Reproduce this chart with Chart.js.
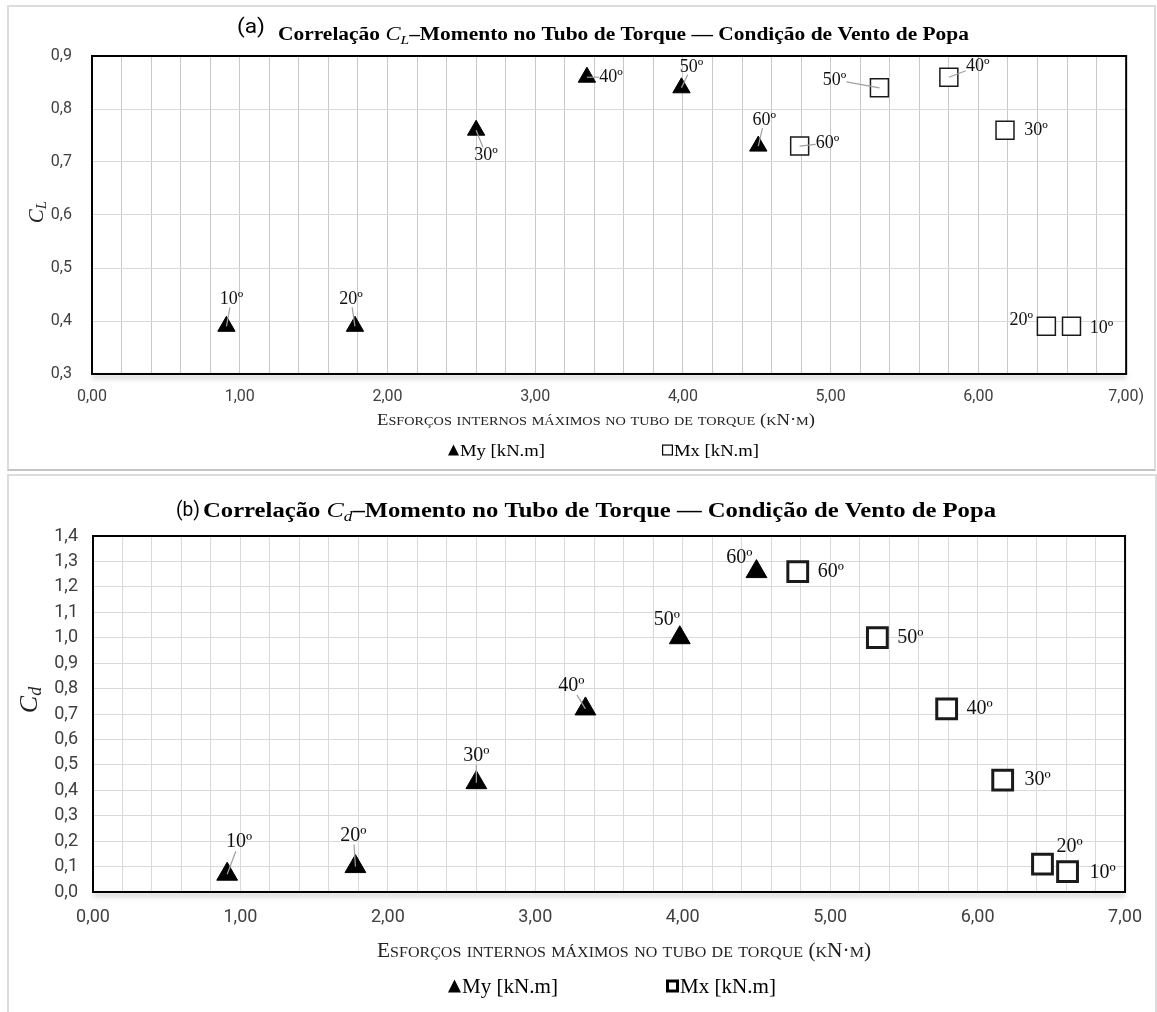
<!DOCTYPE html>
<html>
<head>
<meta charset="utf-8">
<script src="https://cdn.jsdelivr.net/npm/chart.js@4.4.1/dist/chart.umd.min.js"></script>
<style>
  body { margin: 0; background: #fff; width: 1157px; height: 1012px; overflow: hidden; position: relative; }
  .panel { position: absolute; box-sizing: border-box; border: 2px solid #dcdcdc; }
  #pa { left: 7px; top: 5px; width: 1149px; height: 466px; border-bottom-color: #c4c4c4; }
  #pb { left: 7px; top: 474px; width: 1150px; height: 560px; }
  canvas { position: absolute; left: 0; }
</style>
</head>
<body>
<div class="panel" id="pa"></div>
<div class="panel" id="pb"></div>
<canvas id="ca" width="1157" height="470" style="top:0"></canvas>
<canvas id="cb" width="1157" height="542" style="top:470px"></canvas>
<script>
// ---- data ----
const angleLabels = ['10º', '20º', '30º', '40º', '50º', '60º'];

// (a) C_L vs moment
const myA_x = [0.91, 1.78, 2.60, 3.35, 3.99, 4.51];
const myA_y = [0.39, 0.39, 0.76, 0.86, 0.84, 0.73];
const mxA_x = [6.63, 6.46, 6.18, 5.80, 5.33, 4.79];
const mxA_y = [0.39, 0.39, 0.76, 0.86, 0.84, 0.73];

// (b) C_d vs moment
const myB_x = [0.91, 1.78, 2.60, 3.34, 3.98, 4.50];
const myB_y = [0.07, 0.10, 0.43, 0.72, 1.00, 1.26];
const mxB_x = [6.61, 6.44, 6.17, 5.79, 5.32, 4.78];
const mxB_y = [0.08, 0.11, 0.44, 0.72, 1.00, 1.26];

// tick labels
const xTickLabelsA = ['0,00', '1,00', '2,00', '3,00', '4,00', '5,00', '6,00', '7,00)'];
const xTickLabelsB = ['0,00', '1,00', '2,00', '3,00', '4,00', '5,00', '6,00', '7,00'];
const yTickLabelsA = ['0,3', '0,4', '0,5', '0,6', '0,7', '0,8', '0,9'];
const yTickLabelsB = ['0,0', '0,1', '0,2', '0,3', '0,4', '0,5', '0,6', '0,7', '0,8', '0,9', '1,0', '1,1', '1,2', '1,3', '1,4'];

const seriesNames = ['My [kN.m]', 'Mx [kN.m]'];
const axisTitle = 'Esforços internos máximos no tubo de torque (kN·m)';

// label placement (offset of the angle label from its marker, px) — layout only
const labelPosA = {
    my: [[5, -27, 1], [-4, -27, 1], [10, 25, 1], [24, 0, 1], [10, -21, 1], [6, -26, 1]],
    mx: [[30, 2, 0], [-25, -6, 0], [31, 0, 0], [29, -11, 1], [-45, -8, 1], [28, -3, 1]]
};
const labelPosB = {
    my: [[12, -32, 1], [-2, -31, 1], [0, -27, 1], [-14, -23, 1], [-13, -18, 0], [-17, -14, 0]],
    mx: [[35, 1, 0], [27, -17, 0], [35, 0, 0], [33, 0, 0], [33, 0, 0], [33, 0, 0]]
};

const SERIF = '"Liberation Serif", "Times New Roman", serif';
const SANS = 'Roboto, "Open Sans", sans-serif';

// draws a run of text pieces, optionally squeezed/stretched to a given width
function drawParts(ctx, parts, x, baseline, width) {
    let total = 0;
    parts.forEach(p => { ctx.font = p.font; p.w = ctx.measureText(p.t).width; total += p.w; });
    const sx = width ? width / total : 1;
    ctx.save();
    ctx.translate(x, baseline);
    ctx.scale(sx, 1);
    ctx.textAlign = 'left';
    ctx.textBaseline = 'alphabetic';
    let cx = 0;
    parts.forEach(p => { ctx.font = p.font; ctx.fillText(p.t, cx, p.dy || 0); cx += p.w; });
    ctx.restore();
}

function smallCaps(text, big, small) {
    const parts = [];
    for (const ch of text) {
        const lower = ch !== ch.toUpperCase();
        const font = lower ? small : big;
        const t = lower ? ch.toUpperCase() : ch;
        const last = parts[parts.length - 1];
        if (last && last.font === font) last.t += t; else parts.push({ t: t, font: font });
    }
    return parts;
}

const deco = {
    id: 'deco',
    beforeDatasetsDraw(chart, args, o) {
        const { ctx, chartArea: a } = chart;
        ctx.save();
        ctx.strokeStyle = '#000';
        ctx.lineWidth = 2;
        ctx.strokeRect(a.left, a.top, a.right - a.left, a.bottom - a.top);
        // soft shadow under the bottom axis
        ctx.shadowColor = 'rgba(0,0,0,0.35)';
        ctx.shadowBlur = 5;
        ctx.shadowOffsetY = 3;
        ctx.beginPath();
        ctx.moveTo(a.left, a.bottom);
        ctx.lineTo(a.right, a.bottom);
        ctx.stroke();
        ctx.restore();
    },
    afterDatasetsDraw(chart, args, o) {
        const ctx = chart.ctx;
        ctx.save();
        ctx.font = o.labelFont;
        ctx.textAlign = 'center';
        ctx.textBaseline = 'middle';
        [o.pos.my, o.pos.mx].forEach((pos, di) => {
            const meta = chart.getDatasetMeta(di);
            meta.data.forEach((pt, i) => {
                const [dx, dy, lead] = pos[i];
                const lx = pt.x + dx, ly = pt.y + dy;
                if (lead) {
                    const hw = o.boxW, hh = o.boxH;
                    const s = Math.min(dx ? hw / Math.abs(dx) : 9, dy ? hh / Math.abs(dy) : 9);
                    if (s < 1) {
                        ctx.strokeStyle = '#a0a0a0';
                        ctx.lineWidth = 1.2;
                        ctx.beginPath();
                        ctx.moveTo(pt.x, pt.y);
                        ctx.lineTo(lx - s * dx, ly - s * dy);
                        ctx.stroke();
                    }
                }
                ctx.fillStyle = '#111';
                ctx.fillText(angleLabels[i], lx, ly);
            });
        });
        ctx.restore();
    },
    afterDraw(chart, args, o) {
        const ctx = chart.ctx;
        ctx.save();
        ctx.fillStyle = '#000';
        // title
        drawParts(ctx, [{ t: o.tag, font: o.tagFont }], o.tagX, o.tagY, o.tagW);
        const tf = o.titleFont;
        drawParts(ctx, [
            { t: 'Correlação ', font: 'bold ' + tf + 'px ' + SERIF },
            { t: 'C', font: 'italic ' + (tf + 1) + 'px ' + SERIF },
            { t: o.sub, font: 'italic ' + Math.round(tf * 0.72) + 'px ' + SERIF, dy: 4 },
            { t: '–Momento no Tubo de Torque — Condição de Vento de Popa', font: 'bold ' + tf + 'px ' + SERIF }
        ], o.titleX, o.titleY, o.titleW);
        // x axis title (small caps)
        ctx.fillStyle = '#222';
        drawParts(ctx, smallCaps(axisTitle, o.axFont + 'px ' + SERIF, Math.round(o.axFont * 0.76) + 'px ' + SERIF),
            o.axX, o.axY, o.axW);
        // y axis title
        ctx.save();
        ctx.translate(o.yX, o.yY);
        ctx.rotate(-Math.PI / 2);
        ctx.font = 'italic ' + o.yFont + 'px ' + SERIF;
        const cw = ctx.measureText('C').width;
        ctx.font = 'italic ' + Math.round(o.yFont * 0.7) + 'px ' + SERIF;
        const sw = ctx.measureText(o.sub).width;
        ctx.textBaseline = 'middle';
        ctx.textAlign = 'left';
        ctx.font = 'italic ' + o.yFont + 'px ' + SERIF;
        ctx.fillText('C', -(cw + sw) / 2, 0);
        ctx.font = 'italic ' + Math.round(o.yFont * 0.7) + 'px ' + SERIF;
        ctx.fillText(o.sub, -(cw + sw) / 2 + cw, o.yFont * 0.25);
        ctx.restore();
        // legend
        const lg = o.legend;
        ctx.fillStyle = '#000';
        ctx.beginPath();
        ctx.moveTo(lg.triX + lg.size / 2, lg.y - lg.size / 2);
        ctx.lineTo(lg.triX + lg.size, lg.y + lg.size / 2);
        ctx.lineTo(lg.triX, lg.y + lg.size / 2);
        ctx.closePath();
        ctx.fill();
        ctx.strokeStyle = '#000';
        ctx.lineWidth = lg.sqLine;
        ctx.strokeRect(lg.sqX + lg.sqLine / 2, lg.y - lg.size / 2 + lg.sqLine / 2, lg.size - lg.sqLine, lg.size - lg.sqLine);
        drawParts(ctx, [{ t: seriesNames[0], font: lg.font }], lg.triX + lg.size + 1, lg.base, lg.textW);
        drawParts(ctx, [{ t: seriesNames[1], font: lg.font }], lg.sqX + lg.size + 1, lg.base, lg.textW);
        ctx.restore();
    }
};

function points(xs, ys) {
    return xs.map((x, i) => ({ x: x, y: ys[i] }));
}

function makeChart(id, c) {
    const yMin = c.yMin;
    return new Chart(document.getElementById(id), {
        type: 'scatter',
        data: {
            datasets: [{
                label: seriesNames[0],
                data: points(c.myX, c.myY),
                pointStyle: 'triangle',
                pointRadius: c.triR,
                pointHoverRadius: c.triR,
                backgroundColor: '#000',
                borderColor: '#000',
                borderWidth: 1
            }, {
                label: seriesNames[1],
                data: points(c.mxX, c.mxY),
                pointStyle: 'rect',
                pointRadius: c.sqR,
                pointHoverRadius: c.sqR,
                backgroundColor: '#fff',
                borderColor: '#1a1a1a',
                borderWidth: c.sqLine
            }]
        },
        options: {
            responsive: false,
            animation: false,
            events: [],
            layout: { padding: c.padding },
            scales: {
                x: {
                    type: 'linear',
                    min: 0,
                    max: 7,
                    afterFit: s => { s.height = 50; },
                    border: { display: false },
                    grid: { color: c.vGrid, lineWidth: 1, drawTicks: false },
                    ticks: {
                        stepSize: 0.2,
                        autoSkip: false,
                        maxRotation: 0,
                        padding: c.xPad,
                        color: '#404040',
                        font: { family: SANS, size: c.tickSize },
                        callback: v => Math.abs(v - Math.round(v)) < 1e-6 ? c.xLabels[Math.round(v)] : ''
                    }
                },
                y: {
                    min: yMin,
                    max: c.yMax,
                    afterFit: s => { s.width = 60; },
                    border: { display: false },
                    grid: { color: '#d9d9d9', lineWidth: 1, drawTicks: false },
                    ticks: {
                        stepSize: 0.1,
                        padding: c.yPad,
                        color: '#404040',
                        font: { family: SANS, size: c.tickSize },
                        callback: v => c.yLabels[Math.round((v - yMin) * 10)]
                    }
                }
            },
            plugins: {
                legend: { display: false },
                tooltip: { enabled: false },
                deco: c.deco
            }
        },
        plugins: [deco]
    });
}

// (a)
makeChart('ca', {
    myX: myA_x, myY: myA_y, mxX: mxA_x, mxY: mxA_y,
    yMin: 0.3, yMax: 0.9, xLabels: xTickLabelsA, yLabels: yTickLabelsA,
    triR: 10, sqR: 12.7, sqLine: 1.5, tickSize: 16, xPad: 13, yPad: 20,
    vGrid: '#c8c8c8',
    padding: { left: 32, right: 25, top: 56, bottom: 46 },
    deco: {
        pos: labelPosA, labelFont: '18px ' + SERIF, boxW: 12, boxH: 8,
        tag: '(a)', tagFont: '21px ' + SANS, tagX: 237, tagY: 33, tagW: 28,
        titleFont: 18, sub: 'L', titleX: 278, titleY: 40, titleW: 691,
        axFont: 17, axX: 377, axY: 425, axW: 438,
        yX: 37, yY: 212, yFont: 21,
        legend: { triX: 448, sqX: 662, y: 450, size: 11, sqLine: 1.2, base: 456, font: '17px ' + SERIF, textW: 85 }
    }
});

// (b)
makeChart('cb', {
    myX: myB_x, myY: myB_y, mxX: mxB_x, mxY: mxB_y,
    yMin: 0, yMax: 1.4, xLabels: xTickLabelsB, yLabels: yTickLabelsB,
    triR: 12, sqR: 14, sqLine: 3, tickSize: 18, xPad: 15, yPad: 15,
    vGrid: '#d9d9d9',
    padding: { left: 33, right: 27, top: 66, bottom: 70 },
    deco: {
        pos: labelPosB, labelFont: '20px ' + SERIF, boxW: 13, boxH: 9,
        tag: '(b)', tagFont: '21px ' + SANS, tagX: 176, tagY: 46, tagW: 24,
        titleFont: 20, sub: 'd', titleX: 203, titleY: 47, titleW: 793,
        axFont: 20, axX: 377, axY: 487, axW: 494,
        yX: 30, yY: 230, yFont: 26,
        legend: { triX: 448, sqX: 666, y: 516, size: 13, sqLine: 3, base: 523, font: '20px ' + SERIF, textW: 96 }
    }
});
</script>
</body>
</html>
